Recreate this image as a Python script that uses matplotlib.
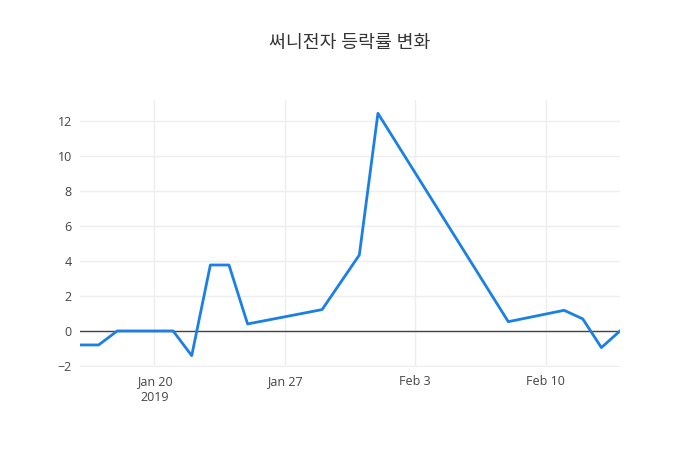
import datetime
import matplotlib
matplotlib.use("Agg")
import matplotlib.pyplot as plt

# daily change rate (%)
dates = ["2019-01-16", "2019-01-17", "2019-01-18", "2019-01-21", "2019-01-22",
         "2019-01-23", "2019-01-24", "2019-01-25", "2019-01-29", "2019-01-31",
         "2019-02-01", "2019-02-08", "2019-02-11", "2019-02-12", "2019-02-13",
         "2019-02-14"]
changes = [-0.8, -0.8, 0.0, 0.0, -1.41, 3.77, 3.77, 0.4, 1.22, 4.34,
           12.44, 0.53, 1.18, 0.69, -0.95, 0.0]
tick_dates = ["2019-01-20", "2019-01-27", "2019-02-03", "2019-02-10"]
tick_labels = ["Jan 20\n2019", "Jan 27", "Feb 3", "Feb 10"]
y_ticks = [-2, 0, 2, 4, 6, 8, 10, 12]

plt.rcParams['font.family'] = ['Open Sans', 'Noto Sans CJK KR', 'DejaVu Sans']

x = [datetime.datetime.strptime(d, "%Y-%m-%d") for d in dates]
xt = [datetime.datetime.strptime(d, "%Y-%m-%d") for d in tick_dates]

fig = plt.figure(figsize=(7, 4.5), dpi=100)
ax = fig.add_axes([80 / 700, 83 / 450, 540 / 700, 267 / 450])

ax.plot(x, changes, color='#1a80e6', linewidth=2, zorder=3)
ax.axhline(0, color='#444444', linewidth=1, zorder=2)

ax.set_xlim(x[0], x[-1])
ax.set_ylim(-2.06, 13.2)
ax.set_xticks(xt)
ax.set_xticklabels(tick_labels, linespacing=1.3)
ax.set_yticks(y_ticks)
ax.set_yticklabels(["\u22122" if v < 0 else str(v) for v in y_ticks])

ax.grid(True, color='#eeeeee', linewidth=1)
ax.set_axisbelow(True)
for s in ax.spines.values():
    s.set_visible(False)
ax.tick_params(length=0, labelsize=9, colors='#444444', pad=6)

fig.text(0.5, 1 - 43 / 450, "써니전자 등락률 변화", ha='center', va='center',
         fontsize=13.2, color='#333333', fontweight='medium')

fig.savefig("out.png", dpi=100)
